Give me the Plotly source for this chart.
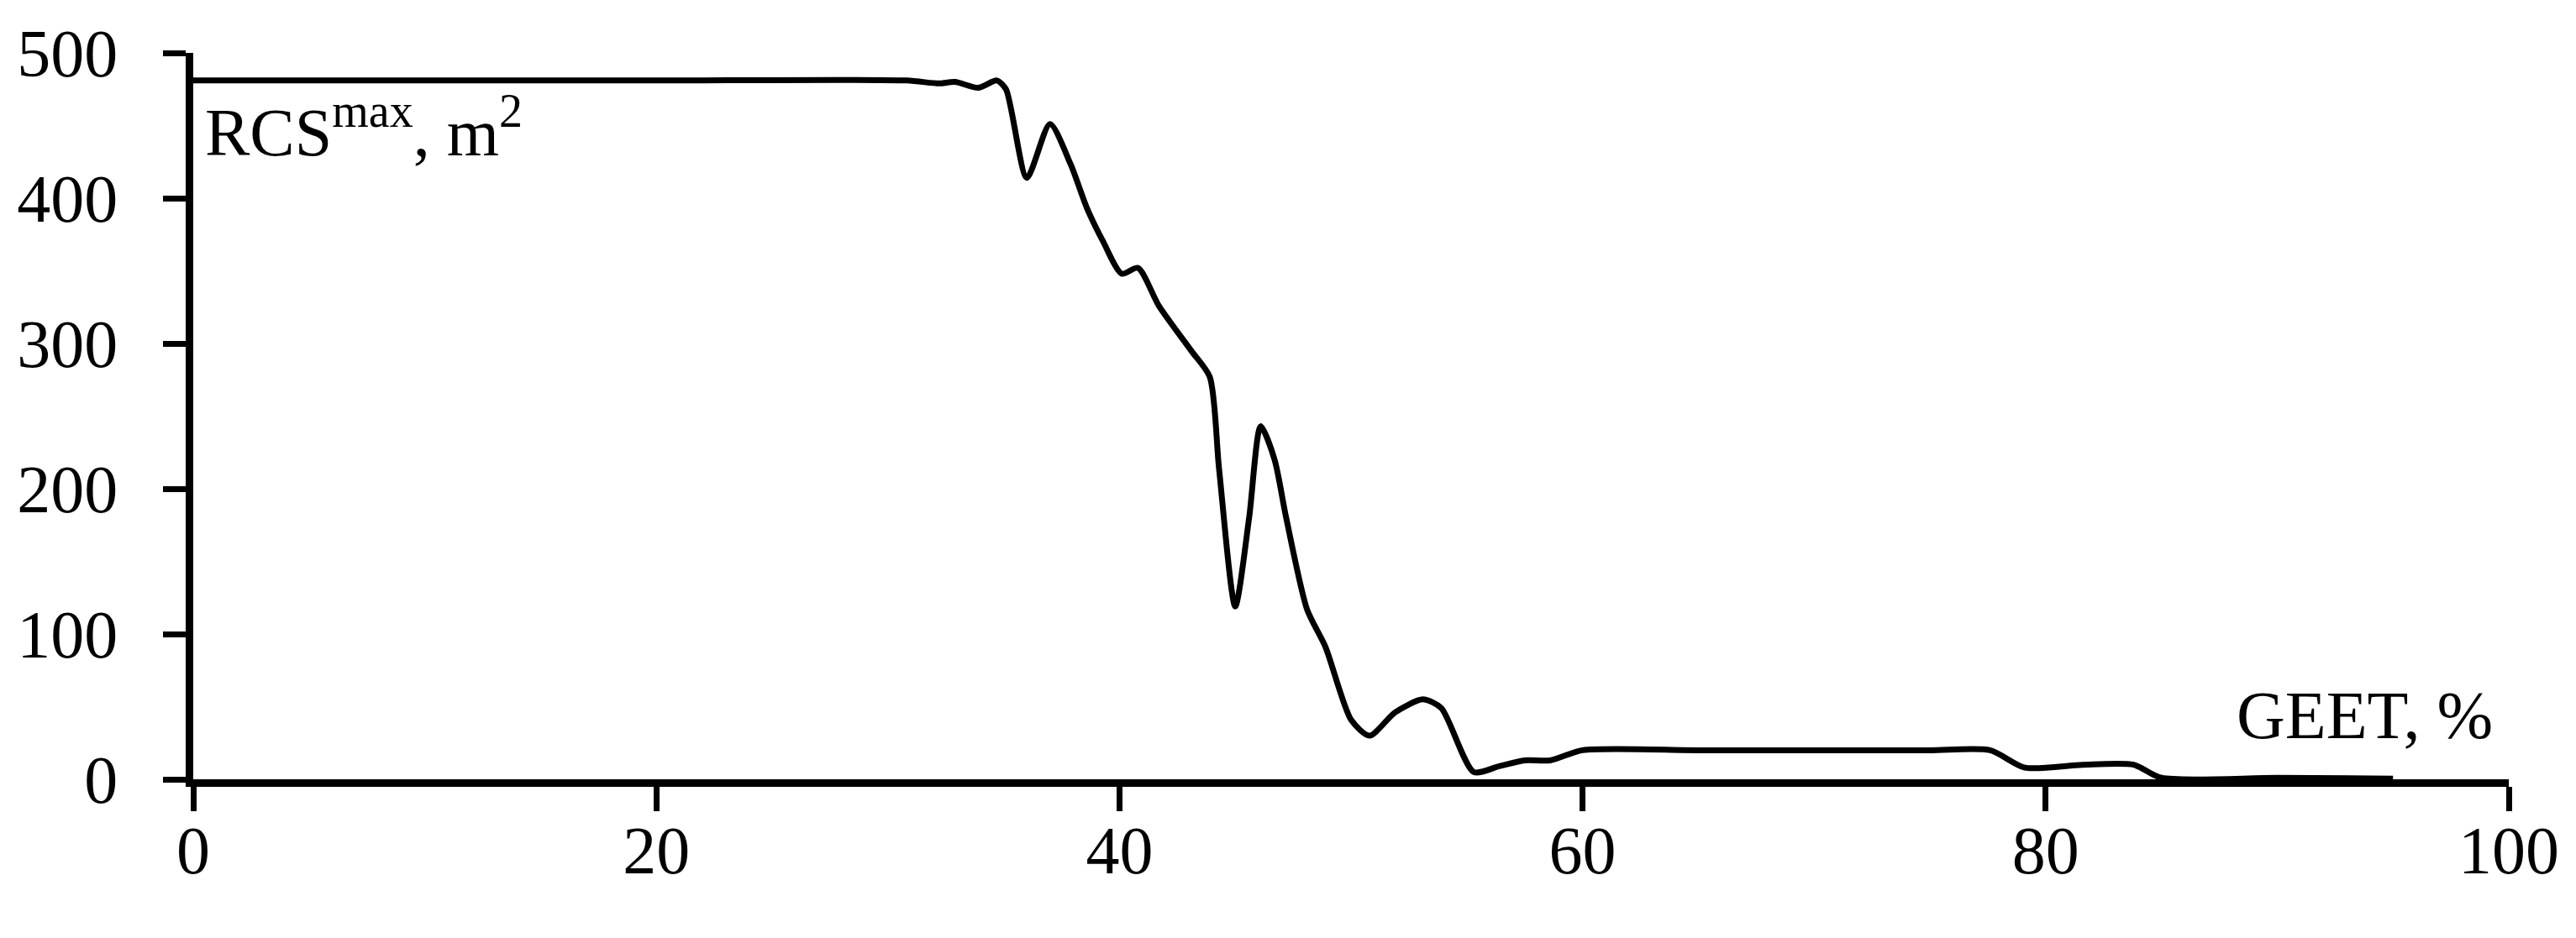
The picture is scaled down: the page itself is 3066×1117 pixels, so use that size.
import plotly.graph_objects as go

geet = [0, 10, 20, 30.8, 32.2, 32.9, 33.9, 34.7, 35.1, 36.0, 37.0, 37.9, 38.6,
        39.3, 40.1, 40.8, 41.7, 43.1, 43.9, 44.3, 45.0, 45.6, 46.1, 46.7, 47.2,
        48.1, 48.9, 50.0, 50.8, 51.9, 53.1, 53.9, 55.3, 56.4, 57.5, 58.6, 60.0,
        65, 70, 75, 77.6, 79.1, 81.6, 83.8, 85.0, 90, 95.0]
rcs_max = [481, 481, 481, 481, 479, 480, 476, 481, 475, 414, 451, 423, 393,
           370, 348, 352, 326, 295, 277, 214, 119, 180, 243, 220, 180,
           117, 91, 41, 30, 46, 55, 49, 5, 9, 13, 13, 20,
           20, 20, 20, 20, 8, 10, 10, 1, 1, 0.5]

x_ticks = [0, 20, 40, 60, 80, 100]
y_ticks = [0, 100, 200, 300, 400, 500]

font = dict(family="Liberation Serif, Times New Roman, serif", size=80, color="black")

fig = go.Figure()

fig.add_trace(
    go.Scatter(
        x=geet,
        y=rcs_max,
        mode="lines",
        line=dict(color="black", width=7, shape="spline", smoothing=0.7),
        showlegend=False,
    )
)

fig.add_annotation(
    x=0.45, y=449, xref="x", yref="y",
    text="RCS<sup>max</sup>, m<sup>2</sup>",
    showarrow=False, xanchor="left", yanchor="middle", font=font,
)
fig.add_annotation(
    x=99.4, y=44, xref="x", yref="y",
    text="GEET, %",
    showarrow=False, xanchor="right", yanchor="middle", font=font,
)

# page body keeps its default 8px margin, so the figure is drawn 8px in
fig.update_layout(
    width=3050,
    height=1101,
    paper_bgcolor="white",
    plot_bgcolor="white",
    font=font,
    margin=dict(l=216, r=72, t=51, b=181),
    xaxis=dict(
        range=[0, 100],
        tickvals=x_ticks,
        showgrid=False,
        zeroline=False,
        showline=True,
        linecolor="black",
        linewidth=8.5,
        ticks="outside",
        ticklen=29,
        tickwidth=7,
        tickcolor="black",
        ticklabelstandoff=-22,
    ),
    yaxis=dict(
        range=[0, 500],
        tickvals=y_ticks,
        showgrid=False,
        zeroline=False,
        showline=True,
        linecolor="black",
        linewidth=8.5,
        ticks="outside",
        ticklen=27,
        tickwidth=7,
        tickcolor="black",
        ticklabelstandoff=38,
    ),
)

fig.write_html("out.html")
